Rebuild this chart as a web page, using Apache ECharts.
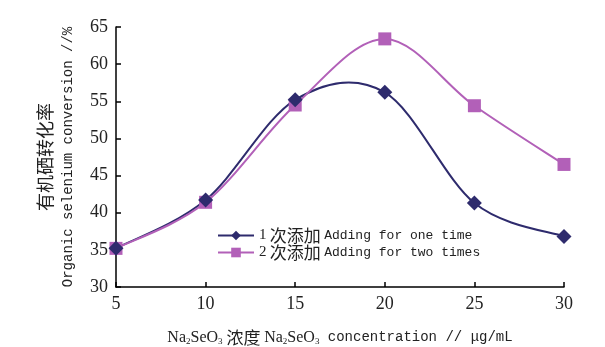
<!DOCTYPE html>
<html><head><meta charset="utf-8">
<script src="https://cdn.jsdelivr.net/npm/echarts@6/dist/echarts.min.js"></script>
<style>html,body{margin:0;padding:0;background:#fff}#c{width:605px;height:347px}</style>
</head><body><div id="c"></div>
<script>
const xValues = [5, 10, 15, 20, 25, 30];
const seriesOnce = [35.2, 41.7, 55.2, 56.2, 41.3, 36.8];
const seriesTwice = [35.2, 41.4, 54.5, 63.4, 54.4, 46.5];
const seriesNames = ['1 次添加 Adding for one time', '2 次添加 Adding for two times'];
const colorOnce = '#2e2b6d';
const colorTwice = '#b260b8';

const chart = echarts.init(document.getElementById('c'));
const pair = (xs, ys) => xs.map((x, i) => [x, ys[i]]);
const axisLine = {show: true, lineStyle: {color: '#000', width: 1.5}};
const cjk = '"Noto Sans CJK SC"';
const mono = '"Liberation Mono"';
const serif = '"Liberation Serif"';

// Catmull-Rom style smoothed segment between point i and i+1 (spreadsheet-like smoothing)
function splineRenderer(ys, color) {
  return function (params, api) {
    const i = params.dataIndex;
    const n = xValues.length;
    if (i >= n - 1) return null;
    const p = k => api.coord([xValues[Math.max(0, Math.min(n - 1, k))], ys[Math.max(0, Math.min(n - 1, k))]]);
    const p0 = p(i - 1), p1 = p(i), p2 = p(i + 1), p3 = p(i + 2);
    return {
      type: 'bezierCurve',
      shape: {
        x1: p1[0], y1: p1[1], x2: p2[0], y2: p2[1],
        cpx1: p1[0] + (p2[0] - p0[0]) / 6, cpy1: p1[1] + (p2[1] - p0[1]) / 6,
        cpx2: p2[0] - (p3[0] - p1[0]) / 6, cpy2: p2[1] - (p3[1] - p1[1]) / 6
      },
      style: {stroke: color, lineWidth: 2, fill: null}
    };
  };
}

chart.setOption({
  backgroundColor: '#fff',
  animation: false,
  grid: {left: 116, right: 41, top: 27, bottom: 60, outerBoundsMode: 'none', containLabel: false},
  xAxis: {
    type: 'value', min: 5, max: 30, interval: 5,
    axisLine: axisLine,
    axisTick: {show: true, inside: true, length: 5, lineStyle: {color: '#000', width: 1.5}},
    splitLine: {show: false},
    axisLabel: {color: '#222', fontFamily: serif, fontSize: 18, margin: 8},
    name: '{n|Na}{s|2}{n|SeO}{s|3}{c| 浓度 }{n|Na}{s|2}{n|SeO}{s|3}{m| concentration // μg/mL}',
    nameLocation: 'middle', nameGap: 42,
    nameTextStyle: {
      color: '#222',
      rich: {
        n: {fontFamily: serif, fontSize: 16, color: '#222'},
        s: {fontFamily: serif, fontSize: 9, color: '#222', padding: [8, 0, 0, 0]},
        c: {fontFamily: cjk, fontSize: 17, color: '#222'},
        m: {fontFamily: mono, fontSize: 14, color: '#222'}
      }
    }
  },
  yAxis: {
    type: 'value', min: 30, max: 65, interval: 5,
    axisLine: axisLine,
    axisTick: {show: true, inside: true, length: 5, lineStyle: {color: '#000', width: 1.5}},
    splitLine: {show: false},
    axisLabel: {color: '#222', fontFamily: serif, fontSize: 18, margin: 8},
    name: '{c|有机硒转化率}\n{m|Organic selenium conversion //%}',
    nameLocation: 'middle', nameGap: 36, nameRotate: 90,
    nameTextStyle: {
      color: '#222',
      rich: {
        c: {fontFamily: cjk, fontSize: 18, color: '#222', lineHeight: 23},
        m: {fontFamily: mono, fontSize: 14, color: '#222', lineHeight: 23}
      }
    }
  },
  legend: {
    orient: 'vertical', left: 212, top: 222, itemGap: 0,
    itemWidth: 36, itemHeight: 12,
    data: [
      {name: seriesNames[0], lineStyle: {opacity: 1, color: colorOnce, width: 2}},
      {name: seriesNames[1], lineStyle: {opacity: 1, color: colorTwice, width: 2}}
    ],
    formatter: function (name) {
      const parts = name.split(' ');
      return '{n|' + parts[0] + '} {c|' + parts[1] + '} {m|' + parts.slice(2).join(' ') + '}';
    },
    textStyle: {
      color: '#222',
      rich: {
        n: {fontFamily: serif, fontSize: 15, color: '#222', lineHeight: 17},
        c: {fontFamily: cjk, fontSize: 17, color: '#222', lineHeight: 17},
        m: {fontFamily: mono, fontSize: 13, color: '#222', lineHeight: 17}
      }
    }
  },
  series: [
    {
      type: 'custom', z: 1, silent: true,
      data: pair(xValues, seriesOnce),
      renderItem: splineRenderer(seriesOnce, colorOnce)
    },
    {
      type: 'custom', z: 1, silent: true,
      data: pair(xValues, seriesTwice),
      renderItem: splineRenderer(seriesTwice, colorTwice)
    },
    {
      name: seriesNames[0], type: 'line', z: 3,
      data: pair(xValues, seriesOnce),
      symbol: 'diamond', symbolSize: 15,
      itemStyle: {color: colorOnce},
      lineStyle: {color: colorOnce, width: 2, opacity: 0}
    },
    {
      name: seriesNames[1], type: 'line', z: 2,
      data: pair(xValues, seriesTwice),
      symbol: 'rect', symbolSize: 13,
      itemStyle: {color: colorTwice},
      lineStyle: {color: colorTwice, width: 2, opacity: 0}
    }
  ]
});
</script></body></html>
